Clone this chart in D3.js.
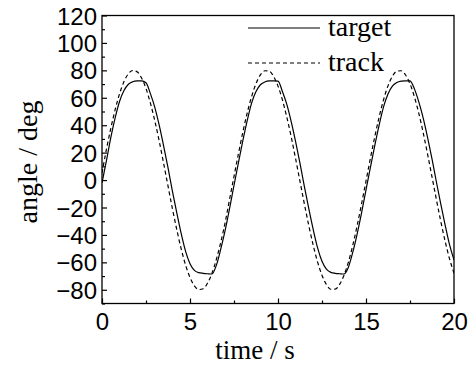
<!DOCTYPE html>
<html>
<head>
<meta charset="utf-8">
<script src="https://cdn.jsdelivr.net/npm/d3@7/dist/d3.min.js"></script>
<style>
  html, body { margin: 0; padding: 0; background: #fff; }
  svg { display: block; }
</style>
</head>
<body>
<svg id="chart" width="476" height="370"></svg>
<script>
// ---- data ----
const time = [0,0.25,0.5,0.75,1,1.25,1.5,1.75,2,2.25,2.5,2.75,3,3.25,3.5,3.75,4,4.25,4.5,4.75,
  5,5.25,5.5,5.75,6,6.25,6.5,6.75,7,7.25,7.5,7.75,8,8.25,8.5,8.75,9,9.25,9.5,9.75,
  10,10.25,10.5,10.75,11,11.25,11.5,11.75,12,12.25,12.5,12.75,13,13.25,13.5,13.75,14,14.25,14.5,14.75,
  15,15.25,15.5,15.75,16,16.25,16.5,16.75,17,17.25,17.5,17.75,18,18.25,18.5,18.75,19,19.25,19.5,19.75,20];

const target = [-2,14,31,45.5,57.5,65.3,69.9,71.7,72.3,72.4,71,63,53,40,25,9,-8,-24,-39,-52,
  -61,-65.8,-67.5,-68,-68.3,-68.5,-62,-50.2,-36.5,-20.6,-3.9,12.5,28.5,43.3,56.1,64.5,69.5,71.5,72.3,72.4,
  72.2,64.6,55.2,42.6,28,12.2,-4.8,-20.8,-36,-49.4,-59.2,-65,-67.3,-68,-68.3,-68.5,-63.5,-52.6,-39.2,-23.8,
  -7.2,9.2,25.3,40.3,53.5,62.8,68.5,71.1,72.1,72.4,72.3,66.5,57,45.2,31,15.4,-1.4,-17.6,-33,-47.3,-58.2];

const track = [5,22.3,37.7,51.5,63,71.8,77.6,79.9,78.9,74.4,66.8,56.1,43.2,28.4,12.3,-4.3,-20.8,-36.2,-50.2,-62,
  -71,-77.1,-79.8,-79.2,-75.1,-67.9,-57.7,-45.2,-30.7,-13.9,2.7,19.1,34.8,48.9,60.9,70.3,76.7,79.7,79.4,75.6,
  68.5,58.5,45.9,31.5,15.6,-1,-17.5,-33.2,-47.5,-59.8,-69.4,-76.2,-79.6,-79.5,-76.1,-69.4,-59.8,-47.5,-33,-17.2,
  -0.7,15.9,31.7,46.2,58.7,68.7,75.7,79.4,79.7,76.6,70.2,60.7,48.7,34.5,18.8,2.3,-14.2,-30.2,-44.8,-57.6,-67.9];

const xTicks = [0, 5, 10, 15, 20];
const xMinorTicks = [2.5, 7.5, 12.5, 17.5];
const yTicks = [-80,-60,-40,-20,0,20,40,60,80,100,120];
const yMinorTicks = [-90,-70,-50,-30,-10,10,30,50,70,90,110];
const seriesNames = ["target", "track"];

// ---- layout ----
const svg = d3.select("#chart");
const pL = 102, pR = 454, pT = 15.5, pB = 303.5;
const x = d3.scaleLinear().domain([0, 20]).range([pL, pR]);
const y = d3.scaleLinear().domain([-90, 120]).range([pB, pT]);

const tickFont = "'Liberation Sans', Arial, sans-serif";
const serifFont = "'Liberation Serif', 'Times New Roman', serif";

svg.append("defs").append("clipPath").attr("id", "clip")
  .append("rect").attr("x", pL).attr("y", pT).attr("width", pR - pL).attr("height", pB - pT);

// ---- curves ----
const line = (vals) => d3.line()
  .x((d, i) => x(time[i]))
  .y(d => y(d))
  .curve(d3.curveMonotoneX)(vals);

const g = svg.append("g").attr("clip-path", "url(#clip)");
g.append("path").attr("d", line(target))
  .attr("fill", "none").attr("stroke", "#000").attr("stroke-width", 1.2);
g.append("path").attr("d", line(track))
  .attr("fill", "none").attr("stroke", "#000").attr("stroke-width", 1.2)
  .attr("stroke-dasharray", "4,3");

// ---- axes (ticks inside) ----
const xAxis = svg.append("g").attr("transform", `translate(0,${pB})`)
  .call(d3.axisBottom(x).tickValues(xTicks).tickSizeInner(-5).tickSizeOuter(0));
const xMinor = svg.append("g").attr("transform", `translate(0,${pB})`)
  .call(d3.axisBottom(x).tickValues(xMinorTicks).tickSizeInner(-3).tickSizeOuter(0).tickFormat(""));
const yAxis = svg.append("g").attr("transform", `translate(${pL},0)`)
  .call(d3.axisLeft(y).tickValues(yTicks).tickSizeInner(-5).tickSizeOuter(0));
const yMinor = svg.append("g").attr("transform", `translate(${pL},0)`)
  .call(d3.axisLeft(y).tickValues(yMinorTicks).tickSizeInner(-3).tickSizeOuter(0).tickFormat(""));

[xAxis, xMinor, yAxis, yMinor].forEach(a => {
  a.select(".domain").remove();
  a.selectAll("line").attr("stroke", "#000").attr("stroke-width", 1.2);
});
xAxis.selectAll("text").attr("font-family", tickFont).attr("font-size", 24).attr("fill", "#000")
  .attr("y", 9).attr("dy", "0.71em");
yAxis.selectAll("text").attr("font-family", tickFont).attr("font-size", 24).attr("fill", "#000")
  .attr("dy", "0.36em").attr("x", -5);

// frame
svg.append("rect").attr("x", pL).attr("y", pT).attr("width", pR - pL).attr("height", pB - pT)
  .attr("fill", "none").attr("stroke", "#000").attr("stroke-width", 1.3);

// ---- axis titles ----
svg.append("text").attr("x", 255).attr("y", 359).attr("text-anchor", "middle")
  .attr("font-family", serifFont).attr("font-size", 27).text("time / s");
svg.append("text").attr("transform", "translate(37,162) rotate(-90)").attr("text-anchor", "middle")
  .attr("font-family", serifFont).attr("font-size", 28).text("angle / deg");

// ---- legend ----
const legY = [28, 63];
seriesNames.forEach((name, i) => {
  svg.append("line").attr("x1", 248).attr("x2", 320).attr("y1", legY[i]).attr("y2", legY[i])
    .attr("stroke", "#000").attr("stroke-width", 1.2)
    .attr("stroke-dasharray", i === 1 ? "4,3" : null);
  svg.append("text").attr("x", 328).attr("y", legY[i] + 8).attr("font-family", serifFont)
    .attr("font-size", 28).text(name);
});
</script>
</body>
</html>
